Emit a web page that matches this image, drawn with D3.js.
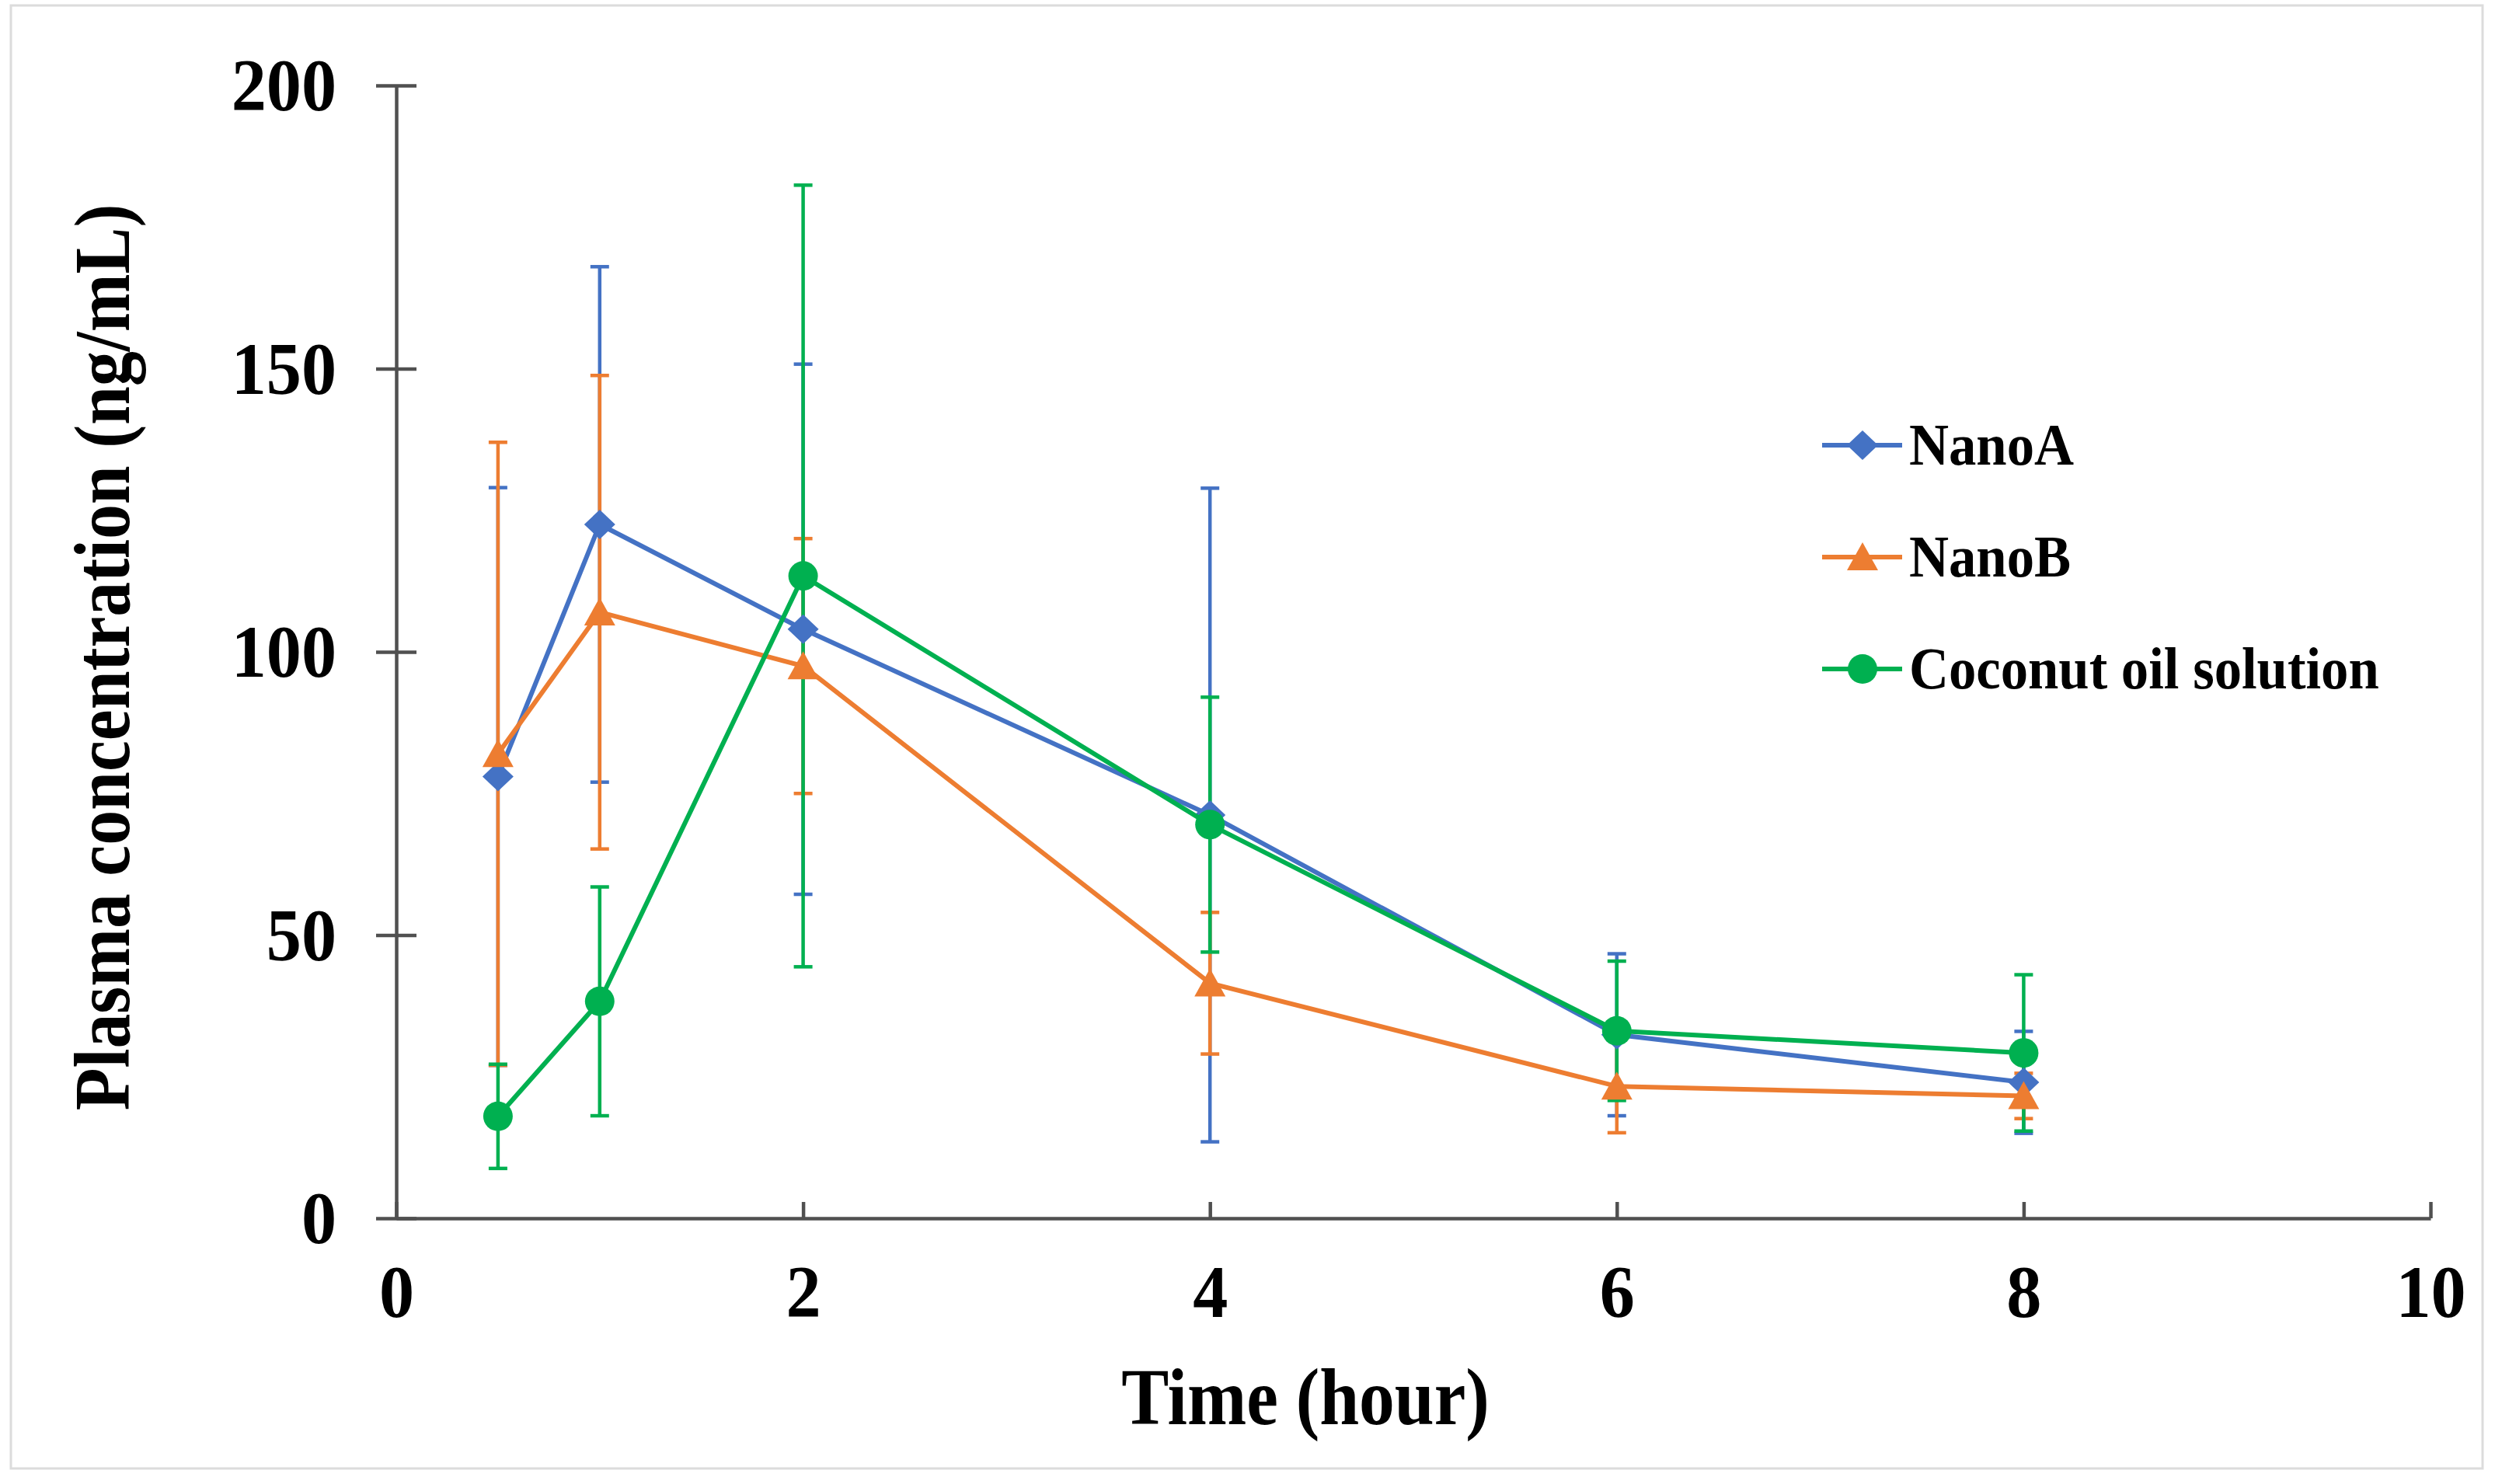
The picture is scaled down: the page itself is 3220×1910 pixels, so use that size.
<!DOCTYPE html>
<html>
<head>
<meta charset="utf-8">
<script src="https://cdn.jsdelivr.net/npm/d3@7"></script>
<style>
  html, body { margin: 0; padding: 0; background: #ffffff; }
  svg { display: block; }
</style>
</head>
<body>
<div id="chart"></div>
<script>
// ---------- DATA ----------
const times = [0.5, 1, 2, 4, 6, 8];
const seriesNames = ["NanoA", "NanoB", "Coconut oil solution"];
const nanoA = [78, 122.5, 104, 71.2, 32.4, 24];
const nanoA_sd = [51, 45.5, 46.8, 57.7, 14.3, 9];
const nanoB = [82, 107, 97.5, 41.5, 23.3, 21.6];
const nanoB_sd = [55, 41.8, 22.5, 12.5, 8.2, 4];
const coconut = [18, 38.3, 113.4, 69.5, 33.1, 29.2];
const coconut_sd = [9.2, 20.2, 69, 22.5, 12.3, 13.8];
const xTicks = [0, 2, 4, 6, 8, 10];
const yTicks = [0, 50, 100, 150, 200];
const xTitle = "Time (hour)";
const yTitle = "Plasma concentration (ng/mL)";

// ---------- STYLE ----------
const W = 3220, H = 1910;
const colors = ["#4472C4", "#ED7D31", "#00B050"];
const shapes = ["diamond", "triangle", "circle"];
const FONT = "'Liberation Serif', 'Times New Roman', serif";
const axisColor = "#505050";

const series = seriesNames.map((name, i) => ({
  name,
  color: colors[i],
  shape: shapes[i],
  values: [nanoA, nanoB, coconut][i],
  sd: [nanoA_sd, nanoB_sd, coconut_sd][i]
}));

const svg = d3.select("#chart").append("svg")
  .attr("width", W).attr("height", H)
  .attr("viewBox", `0 0 ${W} ${H}`);

svg.append("rect").attr("x", 0).attr("y", 0).attr("width", W).attr("height", H).attr("fill", "#fff");
svg.append("rect").attr("x", 14).attr("y", 7).attr("width", 3181).attr("height", 1883)
  .attr("fill", "none").attr("stroke", "#dcdcdc").attr("stroke-width", 3);

const x = d3.scaleLinear().domain([0, 10]).range([510, 3128]);
const y = d3.scaleLinear().domain([0, 200]).range([1568, 110]);

// ---------- AXES ----------
const yAxis = svg.append("g").attr("transform", `translate(${x(0)},0)`)
  .call(d3.axisLeft(y).tickValues(yTicks).tickSize(26).tickSizeOuter(0).tickPadding(51));
yAxis.select(".domain").attr("stroke", axisColor).attr("stroke-width", 4.5);
yAxis.selectAll(".tick line").attr("stroke", axisColor).attr("stroke-width", 4.5)
  .attr("x1", 26).attr("x2", -26);
const ySx = 0.94;
yAxis.selectAll(".tick text")
  .attr("font-family", FONT).attr("font-weight", "bold").attr("font-size", 96)
  .attr("fill", "#000")
  .attr("x", -77 / ySx).attr("dy", "0.33em")
  .attr("transform", `scale(${ySx},1)`);

const xAxis = svg.append("g").attr("transform", `translate(0,${y(0)})`)
  .call(d3.axisBottom(x).tickValues(xTicks).tickSize(-21).tickSizeOuter(0));
xAxis.select(".domain").attr("stroke", axisColor).attr("stroke-width", 4.5);
xAxis.selectAll(".tick line").attr("stroke", axisColor).attr("stroke-width", 4.5);
xAxis.selectAll(".tick text")
  .attr("font-family", FONT).attr("font-weight", "bold").attr("font-size", 96)
  .attr("fill", "#000")
  .attr("y", 127).attr("dy", null)
  .attr("transform", `scale(${ySx},1)`)
  .attr("x", 0);

// axis titles
const tSx = 0.88;
svg.append("text")
  .attr("transform", `translate(1680,1833) scale(${tSx},1)`)
  .attr("text-anchor", "middle")
  .attr("font-family", FONT).attr("font-weight", "bold").attr("font-size", 104)
  .attr("fill", "#000")
  .text(xTitle);

svg.append("text")
  .attr("transform", `translate(166,846) rotate(-90) scale(${tSx},1)`)
  .attr("text-anchor", "middle")
  .attr("font-family", FONT).attr("font-weight", "bold").attr("font-size", 102)
  .attr("fill", "#000")
  .text(yTitle);

// ---------- MARKERS ----------
function markerPath(shape) {
  if (shape === "diamond") return "M0,-19L20,0L0,19L-20,0Z";
  if (shape === "triangle") return "M0,-19L20,17L-20,17Z";
  return d3.arc()({innerRadius: 0, outerRadius: 19, startAngle: 0, endAngle: 2 * Math.PI});
}

// ---------- ERROR BARS (all series first) ----------
const capW = 12;
series.forEach(s => {
  const g = svg.append("g").attr("stroke", s.color).attr("stroke-width", 4.5).attr("fill", "none");
  const pts = times.map((t, i) => ({t, v: s.values[i], e: s.sd[i]}));
  g.selectAll("line.bar").data(pts).join("line").attr("class", "bar")
    .attr("x1", d => x(d.t)).attr("x2", d => x(d.t))
    .attr("y1", d => y(d.v + d.e)).attr("y2", d => y(d.v - d.e));
  g.selectAll("line.capTop").data(pts).join("line").attr("class", "capTop")
    .attr("x1", d => x(d.t) - capW).attr("x2", d => x(d.t) + capW)
    .attr("y1", d => y(d.v + d.e)).attr("y2", d => y(d.v + d.e));
  g.selectAll("line.capBot").data(pts).join("line").attr("class", "capBot")
    .attr("x1", d => x(d.t) - capW).attr("x2", d => x(d.t) + capW)
    .attr("y1", d => y(d.v - d.e)).attr("y2", d => y(d.v - d.e));
});

// ---------- LINES + MARKERS ----------
const line = d3.line().x(d => x(d.t)).y(d => y(d.v));
series.forEach(s => {
  const pts = times.map((t, i) => ({t, v: s.values[i]}));
  svg.append("path").datum(pts)
    .attr("d", line)
    .attr("fill", "none").attr("stroke", s.color).attr("stroke-width", 6)
    .attr("stroke-linejoin", "round");
  svg.append("g").selectAll("path").data(pts).join("path")
    .attr("d", markerPath(s.shape))
    .attr("transform", d => `translate(${x(d.t)},${y(d.v)})`)
    .attr("fill", s.color);
});

// ---------- LEGEND ----------
const legX0 = 2345, legX1 = 2448, legMark = 2397, legText = 2457;
const legY = d3.scaleLinear().domain([0, 1]).range([573, 717]);
const leg = svg.append("g");
series.forEach((s, i) => {
  const yy = legY(i);
  leg.append("line").attr("x1", legX0).attr("x2", legX1).attr("y1", yy).attr("y2", yy)
    .attr("stroke", s.color).attr("stroke-width", 6);
  leg.append("path").attr("d", markerPath(s.shape))
    .attr("transform", `translate(${legMark},${yy})`).attr("fill", s.color);
  leg.append("text")
    .attr("transform", `translate(${legText},${yy + 25}) scale(0.93,1)`)
    .attr("font-family", FONT).attr("font-weight", "bold").attr("font-size", 76)
    .attr("fill", "#000")
    .text(s.name);
});
</script>
</body>
</html>
